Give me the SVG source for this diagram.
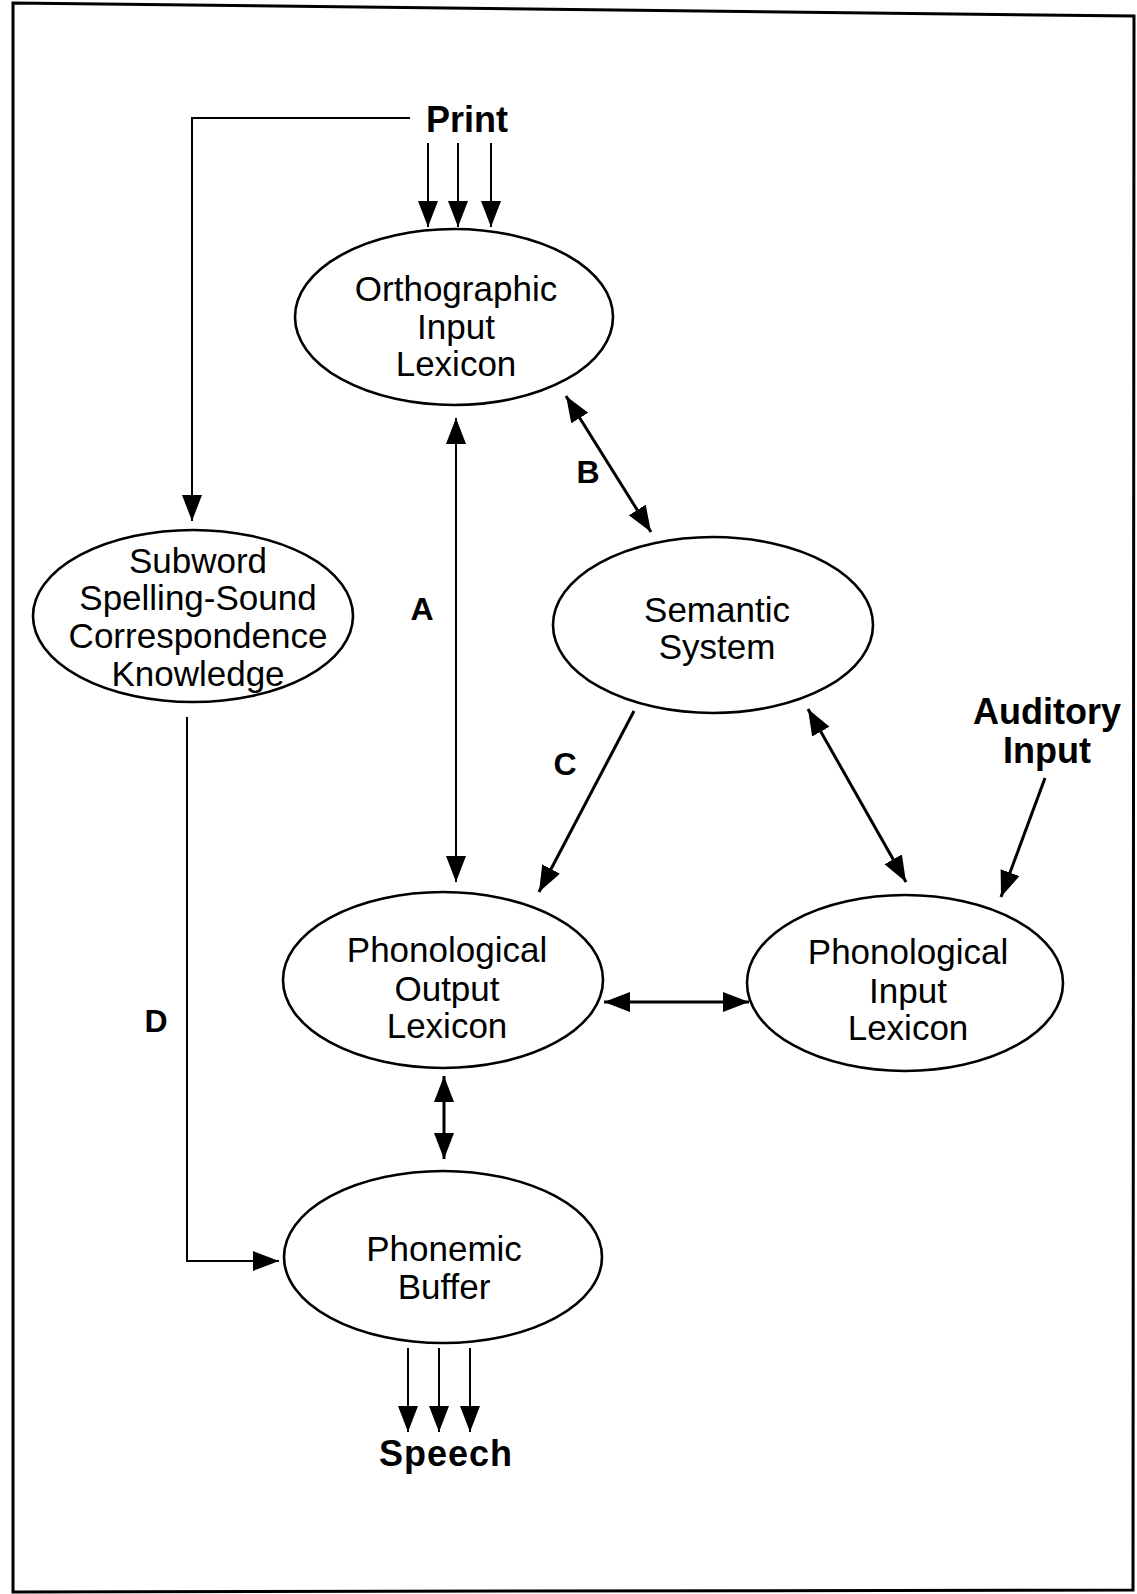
<svg xmlns="http://www.w3.org/2000/svg" width="1137" height="1594" viewBox="0 0 1137 1594">
<style>
.node ellipse{fill:#fff;stroke:#000;stroke-width:2.6}
.t{font-family:"Liberation Sans",Arial,sans-serif;font-size:35px;text-anchor:middle;fill:#000}
.b{font-family:"Liberation Sans",Arial,sans-serif;font-weight:bold;font-size:36px;text-anchor:middle;fill:#000}
.lbl{font-family:"Liberation Sans",Arial,sans-serif;font-weight:bold;font-size:32px;text-anchor:middle;fill:#000}
.c line,.c polyline{stroke:#000;fill:none;stroke-width:2}
.c .thick{stroke-width:3}
</style>
<defs>
<marker id="ah" markerUnits="userSpaceOnUse" markerWidth="30" markerHeight="24" refX="26" refY="10" orient="auto-start-reverse" viewBox="0 0 30 24">
<path d="M0,0 L26,10 L0,20 Z" fill="#000"/>
</marker>
</defs>
<rect width="1137" height="1594" fill="#fff"/>
<polygon points="13,3 1134,16 1133,1590 13,1592" fill="none" stroke="#000" stroke-width="3"/>

<g class="c" id="connectors">
<polyline points="410,118 192,118 192,521" marker-end="url(#ah)"/>
<line x1="428" y1="143" x2="428" y2="227" marker-end="url(#ah)"/>
<line x1="458" y1="143" x2="458" y2="227" marker-end="url(#ah)"/>
<line x1="491" y1="143" x2="491" y2="227" marker-end="url(#ah)"/>
<line x1="456" y1="418" x2="456" y2="882" marker-start="url(#ah)" marker-end="url(#ah)"/>
<line class="thick" x1="566" y1="396" x2="651" y2="532" marker-start="url(#ah)" marker-end="url(#ah)"/>
<line class="thick" x1="634" y1="711" x2="539" y2="892" marker-end="url(#ah)"/>
<line class="thick" x1="808" y1="709" x2="906" y2="882" marker-start="url(#ah)" marker-end="url(#ah)"/>
<line class="thick" x1="1045" y1="778" x2="1001" y2="897" marker-end="url(#ah)"/>
<line class="thick" x1="604" y1="1002" x2="749" y2="1002" marker-start="url(#ah)" marker-end="url(#ah)"/>
<line class="thick" x1="444" y1="1076" x2="444" y2="1159" marker-start="url(#ah)" marker-end="url(#ah)"/>
<polyline points="187,717 187,1261 279,1261" marker-end="url(#ah)"/>
<line x1="408" y1="1348" x2="408" y2="1432" marker-end="url(#ah)"/>
<line x1="439" y1="1348" x2="439" y2="1432" marker-end="url(#ah)"/>
<line x1="470" y1="1348" x2="470" y2="1432" marker-end="url(#ah)"/>
<text class="lbl" x="422" y="620">A</text>
<text class="lbl" x="588" y="483">B</text>
<text class="lbl" x="565" y="775">C</text>
<text class="lbl" x="156" y="1032">D</text>
</g>

<g id="print"><text class="b" x="467" y="132">Print</text></g>
<g id="auditory"><text class="b" x="1047" y="724">Auditory</text><text class="b" x="1047" y="763">Input</text></g>
<g id="speech"><text class="b" x="446" y="1466" letter-spacing="1">Speech</text></g>

<g class="node" id="orthographic">
<ellipse cx="454" cy="317" rx="159" ry="88"/>
<text class="t" x="456" y="301">Orthographic</text>
<text class="t" x="456" y="339">Input</text>
<text class="t" x="456" y="376">Lexicon</text>
</g>
<g class="node" id="subword">
<ellipse cx="193" cy="616" rx="160" ry="86"/>
<text class="t" x="198" y="573">Subword</text>
<text class="t" x="198" y="610">Spelling-Sound</text>
<text class="t" x="198" y="648">Correspondence</text>
<text class="t" x="198" y="686">Knowledge</text>
</g>
<g class="node" id="semantic">
<ellipse cx="713" cy="625" rx="160" ry="88"/>
<text class="t" x="717" y="622">Semantic</text>
<text class="t" x="717" y="659">System</text>
</g>
<g class="node" id="phon-output">
<ellipse cx="443" cy="980" rx="160" ry="88"/>
<text class="t" x="447" y="962">Phonological</text>
<text class="t" x="447" y="1001">Output</text>
<text class="t" x="447" y="1038">Lexicon</text>
</g>
<g class="node" id="phon-input">
<ellipse cx="905" cy="983" rx="158" ry="88"/>
<text class="t" x="908" y="964">Phonological</text>
<text class="t" x="908" y="1003">Input</text>
<text class="t" x="908" y="1040">Lexicon</text>
</g>
<g class="node" id="phonemic">
<ellipse cx="443" cy="1257" rx="159" ry="86"/>
<text class="t" x="444" y="1261">Phonemic</text>
<text class="t" x="444" y="1299">Buffer</text>
</g>
</svg>
